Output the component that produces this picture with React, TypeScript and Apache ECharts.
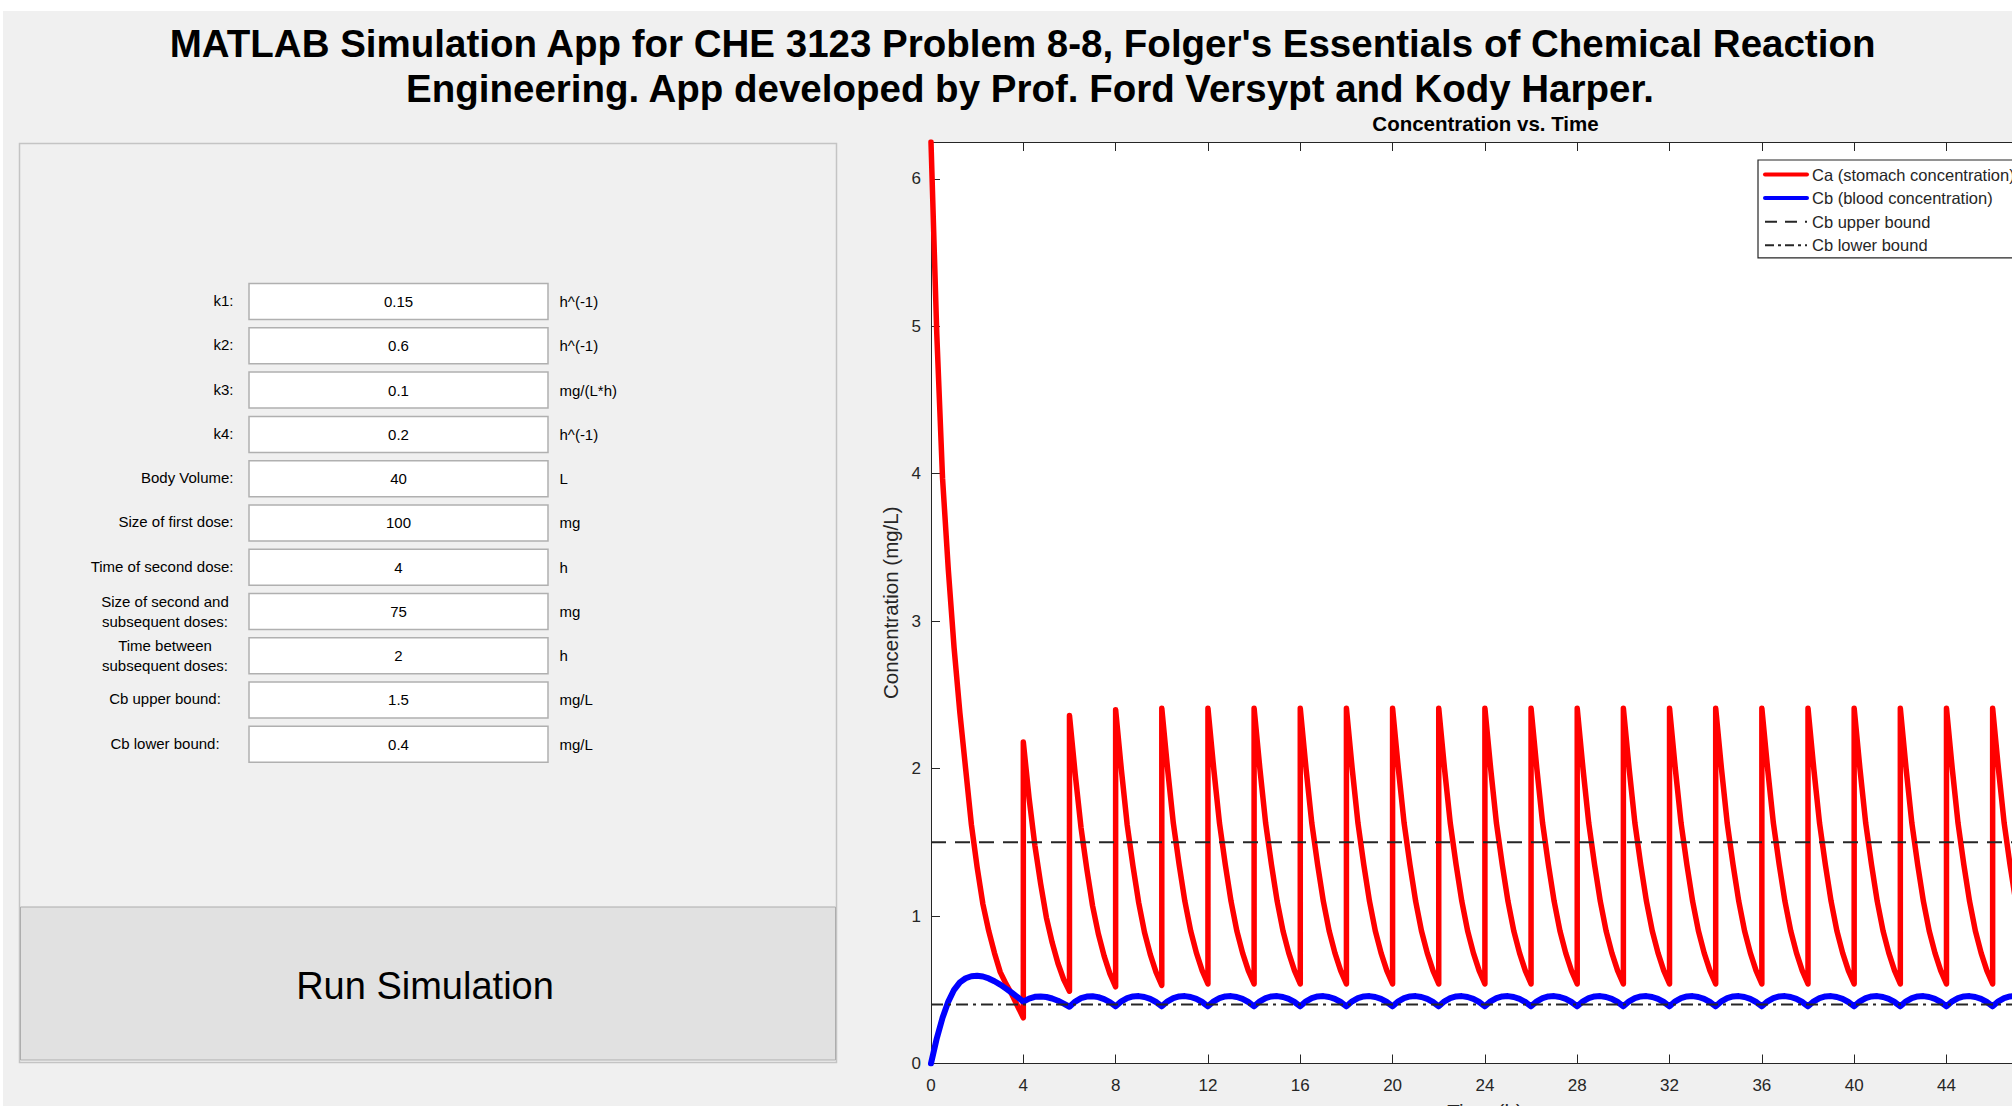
import React, { useEffect, useRef } from "react";
import * as echarts from "echarts";

// ---------- data ----------
const firstDoseTimes = [0, 0.25, 0.5, 0.75, 1, 1.25, 1.5, 1.75, 2, 2.25, 2.5, 2.75, 3, 3.25, 3.5, 3.75, 4];
const caFirstDose = [6.25, 4.95, 3.97, 3.35, 2.82, 2.38, 2.0, 1.62, 1.33, 1.08, 0.9, 0.75, 0.62, 0.54, 0.47, 0.39, 0.31];
const cbFirstDose = [0, 0.17, 0.31, 0.42, 0.5, 0.55, 0.578, 0.592, 0.595, 0.59, 0.577, 0.558, 0.535, 0.508, 0.48, 0.45, 0.42];

const doseTimes = [4, 6, 8, 10, 12, 14, 16, 18, 20, 22, 24, 26, 28, 30, 32, 34, 36, 38, 40, 42, 44, 46];
const cycleOffsets = [0, 0.25, 0.5, 0.75, 1, 1.25, 1.5, 1.75, 2];

const caCycles = [
  [2.18, 1.8, 1.48, 1.22, 0.99, 0.82, 0.68, 0.57, 0.49],
  [2.36, 1.96, 1.6, 1.32, 1.07, 0.88, 0.73, 0.61, 0.52],
  [2.4, 1.99, 1.62, 1.34, 1.09, 0.89, 0.74, 0.62, 0.53],
  [2.41, 2.0, 1.63, 1.35, 1.1, 0.9, 0.75, 0.63, 0.54],
  [2.41, 2.0, 1.63, 1.35, 1.1, 0.9, 0.75, 0.63, 0.54],
  [2.41, 2.0, 1.63, 1.35, 1.1, 0.9, 0.75, 0.63, 0.54],
  [2.41, 2.0, 1.63, 1.35, 1.1, 0.9, 0.75, 0.63, 0.54],
  [2.41, 2.0, 1.63, 1.35, 1.1, 0.9, 0.75, 0.63, 0.54],
  [2.41, 2.0, 1.63, 1.35, 1.1, 0.9, 0.75, 0.63, 0.54],
  [2.41, 2.0, 1.63, 1.35, 1.1, 0.9, 0.75, 0.63, 0.54],
  [2.41, 2.0, 1.63, 1.35, 1.1, 0.9, 0.75, 0.63, 0.54],
  [2.41, 2.0, 1.63, 1.35, 1.1, 0.9, 0.75, 0.63, 0.54],
  [2.41, 2.0, 1.63, 1.35, 1.1, 0.9, 0.75, 0.63, 0.54],
  [2.41, 2.0, 1.63, 1.35, 1.1, 0.9, 0.75, 0.63, 0.54],
  [2.41, 2.0, 1.63, 1.35, 1.1, 0.9, 0.75, 0.63, 0.54],
  [2.41, 2.0, 1.63, 1.35, 1.1, 0.9, 0.75, 0.63, 0.54],
  [2.41, 2.0, 1.63, 1.35, 1.1, 0.9, 0.75, 0.63, 0.54],
  [2.41, 2.0, 1.63, 1.35, 1.1, 0.9, 0.75, 0.63, 0.54],
  [2.41, 2.0, 1.63, 1.35, 1.1, 0.9, 0.75, 0.63, 0.54],
  [2.41, 2.0, 1.63, 1.35, 1.1, 0.9, 0.75, 0.63, 0.54],
  [2.41, 2.0, 1.63, 1.35, 1.1, 0.9, 0.75, 0.63, 0.54],
  [2.41, 2.0, 1.63, 1.35, 1.1, 0.9, 0.75, 0.63, 0.54],
];

const cbCycles = [
  [0.42, 0.44, 0.452, 0.455, 0.451, 0.441, 0.426, 0.406, 0.385],
  [0.385, 0.42, 0.443, 0.454, 0.456, 0.45, 0.437, 0.416, 0.388],
  [0.388, 0.422, 0.444, 0.455, 0.457, 0.451, 0.438, 0.417, 0.388],
  [0.388, 0.422, 0.444, 0.455, 0.457, 0.451, 0.438, 0.417, 0.388],
  [0.388, 0.422, 0.444, 0.455, 0.457, 0.451, 0.438, 0.417, 0.388],
  [0.388, 0.422, 0.444, 0.455, 0.457, 0.451, 0.438, 0.417, 0.388],
  [0.388, 0.422, 0.444, 0.455, 0.457, 0.451, 0.438, 0.417, 0.388],
  [0.388, 0.422, 0.444, 0.455, 0.457, 0.451, 0.438, 0.417, 0.388],
  [0.388, 0.422, 0.444, 0.455, 0.457, 0.451, 0.438, 0.417, 0.388],
  [0.388, 0.422, 0.444, 0.455, 0.457, 0.451, 0.438, 0.417, 0.388],
  [0.388, 0.422, 0.444, 0.455, 0.457, 0.451, 0.438, 0.417, 0.388],
  [0.388, 0.422, 0.444, 0.455, 0.457, 0.451, 0.438, 0.417, 0.388],
  [0.388, 0.422, 0.444, 0.455, 0.457, 0.451, 0.438, 0.417, 0.388],
  [0.388, 0.422, 0.444, 0.455, 0.457, 0.451, 0.438, 0.417, 0.388],
  [0.388, 0.422, 0.444, 0.455, 0.457, 0.451, 0.438, 0.417, 0.388],
  [0.388, 0.422, 0.444, 0.455, 0.457, 0.451, 0.438, 0.417, 0.388],
  [0.388, 0.422, 0.444, 0.455, 0.457, 0.451, 0.438, 0.417, 0.388],
  [0.388, 0.422, 0.444, 0.455, 0.457, 0.451, 0.438, 0.417, 0.388],
  [0.388, 0.422, 0.444, 0.455, 0.457, 0.451, 0.438, 0.417, 0.388],
  [0.388, 0.422, 0.444, 0.455, 0.457, 0.451, 0.438, 0.417, 0.388],
  [0.388, 0.422, 0.444, 0.455, 0.457, 0.451, 0.438, 0.417, 0.388],
  [0.388, 0.422, 0.444, 0.455, 0.457, 0.451, 0.438, 0.417, 0.388],
];

const cbUpperBound = 1.5;
const cbLowerBound = 0.4;
const timeRange = [0, 48];
const concRange = [0, 6.25];

const seriesNames = [
  "Ca (stomach concentration)",
  "Cb (blood concentration)",
  "Cb upper bound",
  "Cb lower bound",
];

const titleLines = [
  "MATLAB Simulation App for CHE 3123 Problem 8-8, Folger's Essentials of Chemical Reaction",
  "Engineering. App developed by Prof. Ford Versypt and Kody Harper.",
];

const inputLabels = [
  ["k1:"],
  ["k2:"],
  ["k3:"],
  ["k4:"],
  ["Body Volume:"],
  ["Size of first dose:"],
  ["Time of second dose:"],
  ["Size of second and", "subsequent doses:"],
  ["Time between", "subsequent doses:"],
  ["Cb upper bound:"],
  ["Cb lower bound:"],
];
const inputValues = ["0.15", "0.6", "0.1", "0.2", "40", "100", "4", "75", "2", "1.5", "0.4"];
const inputUnits = ["h^(-1)", "h^(-1)", "mg/(L*h)", "h^(-1)", "L", "mg", "h", "mg", "h", "mg/L", "mg/L"];
const centeredLabelRows = [7, 8, 9, 10];

// ---------- build series data ----------
const caData: number[][] = firstDoseTimes.map((t, i) => [t, caFirstDose[i]]);
const cbData: number[][] = firstDoseTimes.map((t, i) => [t, cbFirstDose[i]]);
doseTimes.forEach((d, k) => {
  cycleOffsets.forEach((o, j) => {
    caData.push([d + o, caCycles[k][j]]);
    cbData.push([d + o, cbCycles[k][j]]);
  });
});

const FONT = "'Liberation Sans', Arial, Helvetica, sans-serif";
const AX = "#262626";

export default function App() {
  const ref = useRef<HTMLDivElement>(null);

  useEffect(() => {
    if (!ref.current) return;
    const chart = echarts.init(ref.current, undefined, { renderer: "svg" });

    const rowY0 = 301.6;
    const rowStep = 44.26;
    const elements: any[] = [];

    // title
    elements.push({
      type: "text", x: 1022.6, y: 43,
      style: { text: titleLines[0], fill: "#000", fontSize: 38.5, fontWeight: "bold", fontFamily: FONT, align: "center", verticalAlign: "middle" },
    });
    elements.push({
      type: "text", x: 1030, y: 88.5,
      style: { text: titleLines[1], fill: "#000", fontSize: 38.5, fontWeight: "bold", fontFamily: FONT, align: "center", verticalAlign: "middle" },
    });
    // plot title
    elements.push({
      type: "text", x: 1485.5, y: 123.5,
      style: { text: "Concentration vs. Time", fill: "#000", fontSize: 20.5, fontWeight: "bold", fontFamily: FONT, align: "center", verticalAlign: "middle" },
    });

    // panel
    elements.push({
      type: "rect", shape: { x: 19.5, y: 143.5, width: 817, height: 919 },
      style: { fill: "#f0f0f0", stroke: "#c4c4c4", lineWidth: 1.5 }, z: 0,
    });
    // button
    elements.push({
      type: "rect", shape: { x: 20.5, y: 907, width: 815, height: 153 },
      style: { fill: "#e1e1e1", stroke: "#adadad", lineWidth: 1 }, z: 1,
    });
    elements.push({
      type: "text", x: 425, y: 986,
      style: { text: "Run Simulation", fill: "#000", fontSize: 38, fontFamily: FONT, align: "center", verticalAlign: "middle" }, z: 2,
    });

    inputValues.forEach((v, i) => {
      const cy = rowY0 + i * rowStep;
      elements.push({
        type: "rect", shape: { x: 249, y: cy - 18, width: 299, height: 36 },
        style: { fill: "#ffffff", stroke: "#b0b0b0", lineWidth: 1.5 }, z: 2,
      });
      elements.push({
        type: "text", x: 398.5, y: cy,
        style: { text: v, fill: "#000", fontSize: 15, fontFamily: FONT, align: "center", verticalAlign: "middle" }, z: 3,
      });
      elements.push({
        type: "text", x: 559.5, y: cy,
        style: { text: inputUnits[i], fill: "#000", fontSize: 15, fontFamily: FONT, align: "left", verticalAlign: "middle" }, z: 3,
      });
      const lines = inputLabels[i];
      const centered = centeredLabelRows.indexOf(i) >= 0;
      lines.forEach((ln, li) => {
        const ly = lines.length === 1 ? cy - 1 : cy - 10 + li * 20;
        elements.push({
          type: "text", x: centered ? 165 : 233.5, y: ly,
          style: { text: ln, fill: "#000", fontSize: 15, fontFamily: FONT, align: centered ? "center" : "right", verticalAlign: "middle" }, z: 3,
        });
      });
    });

    const axisCommon = {
      type: "value",
      axisLine: { show: true, lineStyle: { color: AX, width: 1 } },
      axisTick: { show: true, inside: true, length: 9, lineStyle: { color: AX, width: 1 } },
      splitLine: { show: false },
    };

    const legendLineWidths = [4, 4, 2, 2];
    const legendDashes: any[] = ["solid", "solid", [12, 8], [9, 4, 3, 4]];

    chart.setOption({
      animation: false,
      backgroundColor: "transparent",
      textStyle: { fontFamily: FONT },
      grid: {
        left: 931, top: 142, width: 1107.8, height: 921.5,
        containLabel: false,
        outerBoundsMode: "none",
        show: true, backgroundColor: "#ffffff", borderWidth: 0,
      },
      legend: {
        orient: "vertical", left: 1758, top: 160,
        data: seriesNames.map((n, i) => ({
          name: n,
          lineStyle: { width: legendLineWidths[i], type: legendDashes[i] },
        })),
        selectedMode: false,
        itemWidth: 42, itemHeight: 16, itemGap: 6.6,
        padding: [6, 12, 4, 5],
        backgroundColor: "#ffffff",
        borderColor: AX, borderWidth: 1.2,
        itemStyle: { opacity: 0 },
        textStyle: { fontSize: 16.5, color: AX, fontFamily: FONT, lineHeight: 16 },
      },
      xAxis: [
        {
          ...axisCommon,
          position: "bottom",
          min: timeRange[0], max: timeRange[1], interval: 4,
          axisLabel: { fontSize: 17, color: AX, margin: 13, showMaxLabel: false, fontFamily: FONT },
          name: "Time (h)", nameLocation: "middle", nameGap: 37,
          nameTextStyle: { fontSize: 20.5, color: AX, fontFamily: FONT },
        },
        {
          ...axisCommon,
          position: "top",
          min: timeRange[0], max: timeRange[1], interval: 4,
          axisLabel: { show: false },
        },
      ],
      yAxis: {
        ...axisCommon,
        position: "left",
        min: concRange[0], max: concRange[1], interval: 1,
        axisLabel: { fontSize: 17, color: AX, margin: 10, showMaxLabel: false, fontFamily: FONT },
        name: "Concentration (mg/L)", nameLocation: "middle", nameGap: 25,
        nameTextStyle: { fontSize: 20.5, color: AX, fontFamily: FONT },
      },
      series: [
        {
          name: seriesNames[0], type: "line", data: caData, showSymbol: false, symbol: "none",
          lineStyle: { color: "#ff0000", width: 5.5, cap: "round", join: "round" },
          itemStyle: { color: "#ff0000", opacity: 0 }, z: 3, clip: true,
        },
        {
          name: seriesNames[1], type: "line", data: cbData, showSymbol: false, symbol: "none",
          lineStyle: { color: "#0000ff", width: 6, cap: "round", join: "round" },
          itemStyle: { color: "#0000ff", opacity: 0 }, z: 4, clip: true,
        },
        {
          name: seriesNames[2], type: "line",
          data: [[timeRange[0], cbUpperBound], [timeRange[1], cbUpperBound]],
          showSymbol: false, symbol: "none",
          lineStyle: { color: AX, width: 2, type: [15, 9] },
          itemStyle: { color: AX, opacity: 0 }, z: 5,
        },
        {
          name: seriesNames[3], type: "line",
          data: [[timeRange[0], cbLowerBound], [timeRange[1], cbLowerBound]],
          showSymbol: false, symbol: "none",
          lineStyle: { color: AX, width: 2, type: [12, 5, 3, 5] },
          itemStyle: { color: AX, opacity: 0 }, z: 5,
        },
      ],
      graphic: { elements },
    });

    return () => chart.dispose();
  }, []);

  return (
    <div style={{ position: "fixed", left: 0, top: 0, width: 2012, height: 1106, background: "#ffffff", overflow: "hidden" }}>
      <div style={{ position: "absolute", left: 3, top: 11, right: 0, bottom: 0, background: "#f0f0f0" }} />
      <div ref={ref} style={{ position: "absolute", left: 0, top: 0, width: 2012, height: 1106 }} />
    </div>
  );
}
